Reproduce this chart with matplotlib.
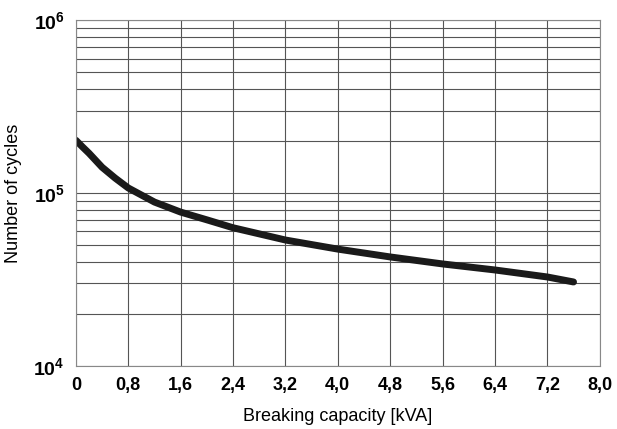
import numpy as np
import matplotlib
matplotlib.use("Agg")
import matplotlib.pyplot as plt

plt.rcParams['font.family'] = ['Liberation Sans', 'DejaVu Sans']
plt.rcParams['mathtext.fontset'] = 'custom'
plt.rcParams['mathtext.rm'] = 'Liberation Sans'
plt.rcParams['mathtext.bf'] = 'Liberation Sans:bold'

# Curva
capacidad = [0.0, 0.1, 0.2, 0.4, 0.6, 0.8, 1.2, 1.6, 2.0, 2.4, 3.2, 4.0, 4.8, 5.6, 6.4, 7.2, 7.6]
ciclos = [2.02e5, 1.85e5, 1.70e5, 1.41e5, 1.22e5, 1.07e5, 8.87e4, 7.76e4, 7.0e4, 6.3e4,
          5.35e4, 4.74e4, 4.27e4, 3.89e4, 3.59e4, 3.27e4, 3.06e4]

xticks = [0, 0.8, 1.6, 2.4, 3.2, 4.0, 4.8, 5.6, 6.4, 7.2, 8.0]
xlabels = ["0", "0,8", "1,6", "2,4", "3,2", "4,0", "4,8", "5,6", "6,4", "7,2", "8,0"]
yticks = [1e4, 1e5, 1e6]
ylabels = [r"$\mathbf{10^{4}}$", r"$\mathbf{10^{5}}$", r"$\mathbf{10^{6}}$"]

fig = plt.figure(figsize=(6.17, 4.29), dpi=100)
ax = fig.add_axes([0.123, 0.147, 0.849, 0.806])

ax.plot(capacidad, ciclos, color="#1a1a1a", lw=5, solid_capstyle="round")

ax.set_yscale("log")
ax.set_xlim(0, 8)
ax.set_ylim(1e4, 1e6)

ax.set_xticks(xticks)
ax.set_xticklabels(xlabels, fontsize=13, fontweight="bold")
ax.set_yticks(yticks)
ax.set_yticklabels(ylabels, fontsize=14)
ax.tick_params(axis="both", which="both", length=0, pad=8)

ax.grid(True, which="major", axis="x", color="#555555", lw=0.8)
ax.grid(True, which="both", axis="y", color="#555555", lw=0.8)

for s in ax.spines.values():
    s.set_color("#888888")
    s.set_linewidth(0.8)

ax.set_xlabel("Breaking capacity [kVA]", fontsize=13, labelpad=10)
ax.set_ylabel("Number of cycles", fontsize=13, labelpad=8)

fig.savefig("out.png", dpi=100)
